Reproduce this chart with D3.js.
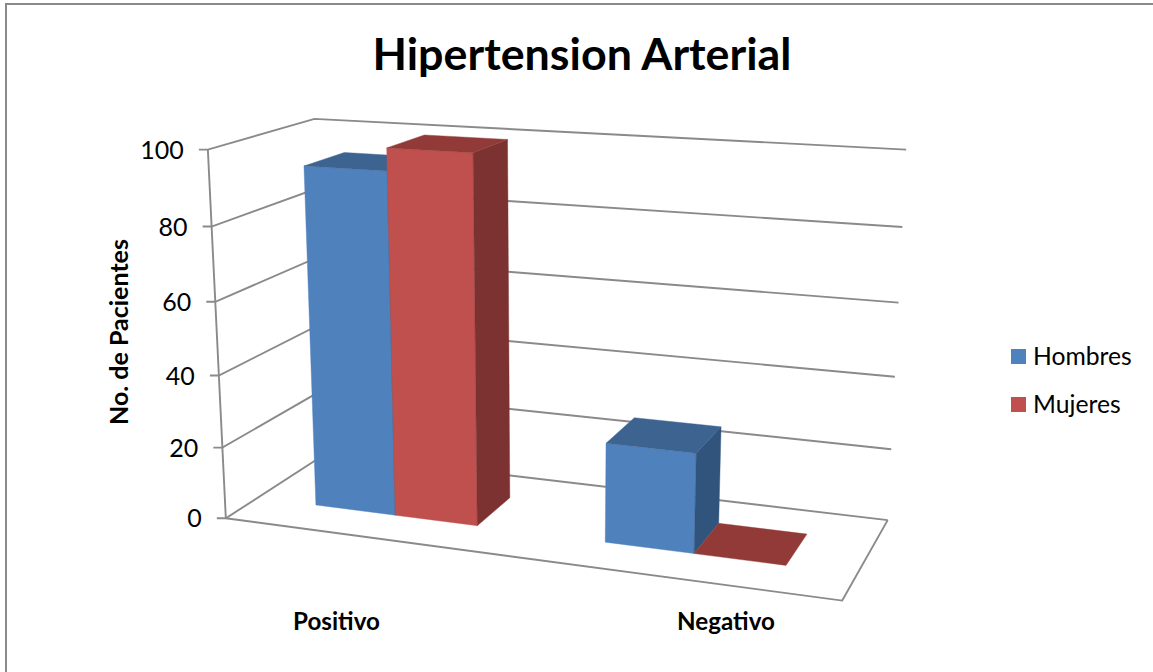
<!DOCTYPE html>
<html><head><meta charset="utf-8">
<script src="https://d3js.org/d3.v7.min.js"></script>
<style>html,body{margin:0;padding:0;background:#fff}svg{display:block}text{font-family:Lato,"Open Sans",sans-serif;fill:#000}</style>
</head><body><svg id="c" width="1153" height="672"></svg>
<script>
const chartTitle = "Hipertension Arterial";
const yTitle = "No. de Pacientes";
const categories = ["Positivo", "Negativo"];
const seriesNames = ["Hombres", "Mujeres"];
const hombres = [94, 27];
const mujeres = [100, 0];
const yTicks = [0, 20, 40, 60, 80, 100];
const seriesValues = [hombres, mujeres];
const faceColors = {
  Hombres: {front: "#4F81BD", top: "#3D6391", side: "#31547C"},
  Mujeres: {front: "#C0504D", top: "#913A38", side: "#7B3230"}
};
const gridColor = "#8A8A8A";

// camera calibration: unit box (x, y, z) -> screen, solved as a projective matrix
const anchors = [
  [0,0,0,226,518],[1,0,0,842,601],[0,0,1,325,454],[1,0,1,888,520],
  [0,1,0,207,149],[0,1,1,315,119],[1,1,1,906,150],
  [0,.2,0,223,448],[0,.4,0,219,375],[0,.6,0,215,302],[0,.8,0,212,227],
  [1,.2,1,891,449],[1,.4,1,895,376.5],[1,.6,1,898.5,302.5],[1,.8,1,902.5,227]
];
function solveCamera(pts){
  const rows=[],rhs=[];
  pts.forEach(([x,y,z,u,v])=>{
    rows.push([x,y,z,1,0,0,0,0,-u*x,-u*y,-u*z]);rhs.push(u);
    rows.push([0,0,0,0,x,y,z,1,-v*x,-v*y,-v*z]);rhs.push(v);
  });
  const n=11,A=d3.range(n).map(i=>d3.range(n+1).map(j=>
    d3.sum(rows,(r,k)=>r[i]*(j<n?r[j]:rhs[k]))));
  for(let i=0;i<n;i++){
    let p=i;for(let k=i+1;k<n;k++)if(Math.abs(A[k][i])>Math.abs(A[p][i]))p=k;
    [A[i],A[p]]=[A[p],A[i]];
    for(let k=0;k<n;k++)if(k!==i){const f=A[k][i]/A[i][i];for(let j=i;j<=n;j++)A[k][j]-=f*A[i][j];}
  }
  return A.map((r,i)=>r[n]/r[i]);
}
const m=solveCamera(anchors);
const project=(x,y,z)=>{
  const w=m[8]*x+m[9]*y+m[10]*z+1;
  return [(m[0]*x+m[1]*y+m[2]*z+m[3])/w,(m[4]*x+m[5]*y+m[6]*z+m[7])/w];
};

const yScale=d3.scaleLinear().domain([0,100]).range([0,1]);
const catScale=d3.scaleBand().domain(categories).range([0,1]).paddingInner(0).paddingOuter(0);
const barBand=d3.scaleBand().domain(seriesNames).range([0,1]).paddingOuter(.75).paddingInner(0);
const zFront=.3,zBack=.7;

const svg=d3.select("#c");
// outer frame
svg.append("path").attr("d","M6,672V4H1153").attr("fill","none").attr("stroke",gridColor).attr("stroke-width",2);

const line=d3.line();
const poly=pts=>line(pts)+"Z";
const grid=svg.append("g").attr("fill","none").attr("stroke",gridColor).attr("stroke-width",1.9);
// vertical axis
grid.append("path").attr("d",line([project(0,0,0),project(0,1,0)]));
// gridlines along left wall and back wall, with ticks
yTicks.forEach(t=>{
  const y=yScale(t),p=project(0,y,0);
  grid.append("path").attr("d",line([[p[0]-9,p[1]],p,project(0,y,1),project(1,y,1)]));
});
// floor
grid.append("path").attr("d",line([project(0,0,0),project(1,0,0),project(1,0,1)]));

// bars
const bars=svg.append("g");
seriesNames.forEach((s,si)=>{
  categories.forEach((c,ci)=>{
    const x0=catScale(c)+catScale.bandwidth()*barBand(s);
    const x1=x0+catScale.bandwidth()*barBand.bandwidth();
    const h=yScale(seriesValues[si][ci]),col=faceColors[s];
    if(h>0){
      bars.append("path").attr("fill",col.front).attr("stroke",col.front).attr("stroke-width",.4)
        .attr("d",poly([project(x0,0,zFront),project(x1,0,zFront),project(x1,h,zFront),project(x0,h,zFront)]));
      bars.append("path").attr("fill",col.side).attr("stroke",col.side).attr("stroke-width",.4)
        .attr("d",poly([project(x1,0,zFront),project(x1,0,zBack),project(x1,h,zBack),project(x1,h,zFront)]));
    }
    bars.append("path").attr("fill",col.top).attr("stroke",col.top).attr("stroke-width",.4)
      .attr("d",poly([project(x0,h,zFront),project(x1,h,zFront),project(x1,h,zBack),project(x0,h,zBack)]));
  });
});

// tick labels
yTicks.forEach(t=>{
  const p=project(0,yScale(t),0);
  svg.append("text").attr("x",p[0]-24).attr("y",p[1]+9).attr("text-anchor","end").attr("font-size",25).text(t);
});
// category labels
const catLabelX={Positivo:336.5,Negativo:726};
categories.forEach(c=>{
  svg.append("text").attr("x",catLabelX[c]).attr("y",630).attr("text-anchor","middle")
    .attr("font-size",24.2).attr("font-weight",700).text(c);
});
svg.append("text").attr("x",582).attr("y",70).attr("text-anchor","middle").attr("font-size",44.8).attr("font-weight",700).text(chartTitle);
svg.append("text").attr("transform","translate(128,332) rotate(-90)").attr("text-anchor","middle")
  .attr("font-size",25).attr("font-weight",700).text(yTitle);
// legend
const legendY=d3.scalePoint().domain(seriesNames).range([356.5,404.5]);
seriesNames.forEach(s=>{
  svg.append("rect").attr("x",1011).attr("y",legendY(s)-7.5).attr("width",15).attr("height",15).attr("fill",faceColors[s].front);
  svg.append("text").attr("x",1033).attr("y",legendY(s)+8.5).attr("font-size",24.7).text(s);
});
</script></body></html>
